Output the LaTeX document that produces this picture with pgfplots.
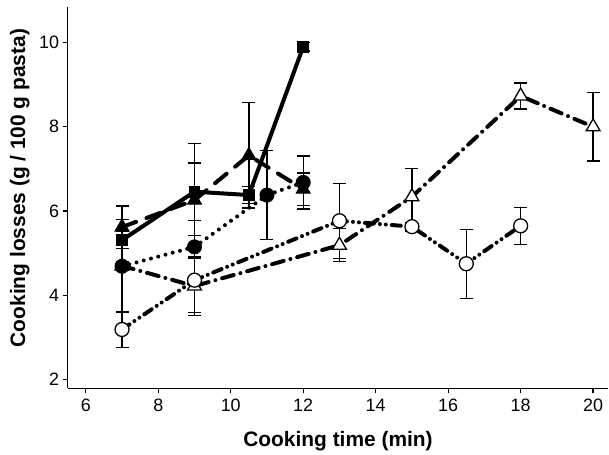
\documentclass[border=0pt]{standalone}
\usepackage{fontspec}
\setmainfont{Liberation Sans}
\usepackage{pgfplots}
\pgfplotsset{compat=1.18}

\begin{document}
\begin{tikzpicture}
\begin{axis}[
    scale only axis,
    width=541bp, height=382bp,
    xmin=5.5, xmax=20.42,
    ymin=1.79, ymax=10.85,
    axis x line*=bottom, axis y line*=left,
    axis line style={line width=1.3bp, -},
    tick align=outside, major tick length=5bp,
    tick style={line width=1.3bp, black},
    xtick={6,8,...,20}, ytick={2,4,...,10},
    /pgf/number format/assume math mode=true,
    tick label style={font=\fontsize{18}{21}\selectfont},
    xticklabel style={yshift=-2bp},
    xlabel={Cooking time (min)},
    ylabel={Cooking losses (g / 100 g pasta)},
    label style={font=\bfseries\fontsize{21}{24}\selectfont},
    xlabel style={at={([yshift=-53bp]rel axis cs:0.5,0)}, anchor=center},
    ylabel style={at={([xshift=-48bp]rel axis cs:0,0.525)}, anchor=center},
    clip=false,
    every axis plot/.append style={black, line width=4bp, line cap=round},
    error bars/y dir=both, error bars/y explicit,
    error bars/error bar style={line width=1.3bp, solid},
    error bars/error mark options={rotate=90, mark size=6.5bp, line width=1.3bp, solid},
]

% open triangles, dash-dot
\addplot[dash pattern=on 12bp off 7bp on 0bp off 7bp,
    mark=triangle*, mark size=8bp, mark options={solid, fill=white, line width=1.3bp}]
    coordinates {(7,4.70) +- (0,1.10) (9,4.22) +- (0,0.70) (13,5.19) +- (0,0.39)
                 (15,6.34) +- (0,0.67) (18,8.73) +- (0,0.31) (20,8.00) +- (0,0.81)};

% open circles, dash-dot-dot
\addplot[dash pattern=on 9bp off 6bp on 0bp off 6bp on 0bp off 6bp,
    mark=*, mark size=7bp, mark options={solid, fill=white, line width=1.3bp}]
    coordinates {(7,3.19) +- (0,0.43) (9,4.36) +- (0,0.76) (13,5.77) +- (0,0.89)
                 (15,5.63) +- (0,0.10) (16.5,4.75) +- (0,0.82) (18,5.65) +- (0,0.44)};

% filled circles, dotted
\addplot[dash pattern=on 0bp off 7.5bp,
    mark=*, mark size=7bp, mark options={solid, fill=black, line width=1bp}]
    coordinates {(7,4.69) +- (0,0.10) (9,5.15) +- (0,0.27) (11,6.38) +- (0,1.05)
                 (12,6.68) +- (0,0.63)};

% filled triangles, dashed
\addplot[dash pattern=on 15bp off 11bp,
    mark=triangle*, mark size=8bp, mark options={solid, fill=black, line width=1bp}]
    coordinates {(7,5.62) +- (0,0.50) (9,6.26) +- (0,1.35) (10.5,7.32) +- (0,1.25)
                 (12,6.52) +- (0,0.38)};

% filled squares, solid
\addplot[solid,
    mark=square*, mark size=5.5bp, mark options={solid, fill=black, line width=1bp}]
    coordinates {(7,5.31) +- (0,0.20) (9,6.46) +- (0,0.68) (10.5,6.38) +- (0,0.20)
                 (12,9.90) +- (0,0.10)};

\end{axis}
\path ([xshift=-67.7bp,yshift=-64.3bp]current axis.south west) rectangle ([yshift=6.7bp]current axis.north east);
\end{tikzpicture}
\end{document}
